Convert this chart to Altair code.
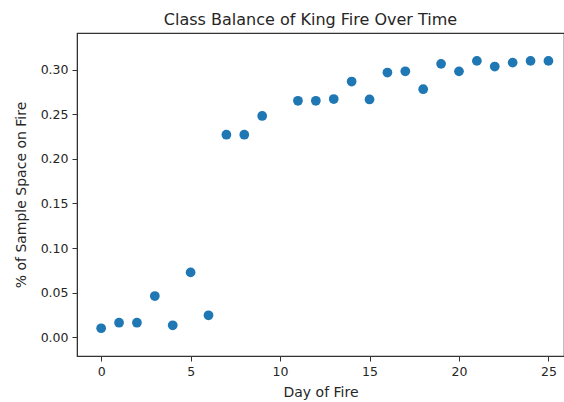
import altair as alt
import pandas as pd

# Share of the sample space on fire, per day of the King Fire
days = [0, 1, 2, 3, 4, 5, 6, 7, 8, 9, 11, 12, 13, 14, 15, 16, 17, 18, 19, 20, 21, 22, 23, 24, 25]
fire_share = [0.0101, 0.0163, 0.0163, 0.0462, 0.0134, 0.0727, 0.0246, 0.227, 0.227, 0.248,
              0.265, 0.265, 0.267, 0.2866, 0.2665, 0.2967, 0.2981, 0.278, 0.3064, 0.298,
              0.3097, 0.3034, 0.3078, 0.3097, 0.3097]

x_ticks = [0, 5, 10, 15, 20, 25]
y_ticks = [0.0, 0.05, 0.10, 0.15, 0.20, 0.25, 0.30]

df = pd.DataFrame({"day": days, "share": fire_share})

FONT = "DejaVu Sans"
TEXT = "#262626"

chart = (
    alt.Chart(df)
    .mark_circle(size=95, opacity=1, color="#1f77b4")
    .encode(
        x=alt.X("day:Q", title="Day of Fire",
                scale=alt.Scale(domain=[-1.35, 25.87], nice=False, zero=False),
                axis=alt.Axis(values=x_ticks, format="d")),
        y=alt.Y("share:Q", title="% of Sample Space on Fire",
                scale=alt.Scale(domain=[-0.021, 0.341], nice=False, zero=False),
                axis=alt.Axis(values=y_ticks, format=".2f")),
    )
    .properties(
        width=487,
        height=323,
        title=alt.TitleParams("Class Balance of King Fire Over Time", font=FONT,
                              fontSize=16, fontWeight="normal", color=TEXT, offset=5,
                              dx=-10),
        autosize=alt.AutoSizeParams(type="none"),
        padding={"left": 77, "top": 33, "right": 0, "bottom": 46},
    )
    .configure_view(stroke="#333333", strokeWidth=1.2)
    .configure_axis(
        grid=False,
        domainColor="#333333",
        tickColor="#333333",
        tickSize=5,
        labelFont=FONT,
        labelFontSize=12.5,
        labelColor=TEXT,
        titleFont=FONT,
        titleFontSize=14,
        titleFontWeight="normal",
        titleColor=TEXT,
        labelPadding=4,
    )
    .configure_axisX(titlePadding=8)
    .configure_axisY(titlePadding=12)
)

chart.save("out.html", embed_options={"renderer": "svg", "actions": False})
